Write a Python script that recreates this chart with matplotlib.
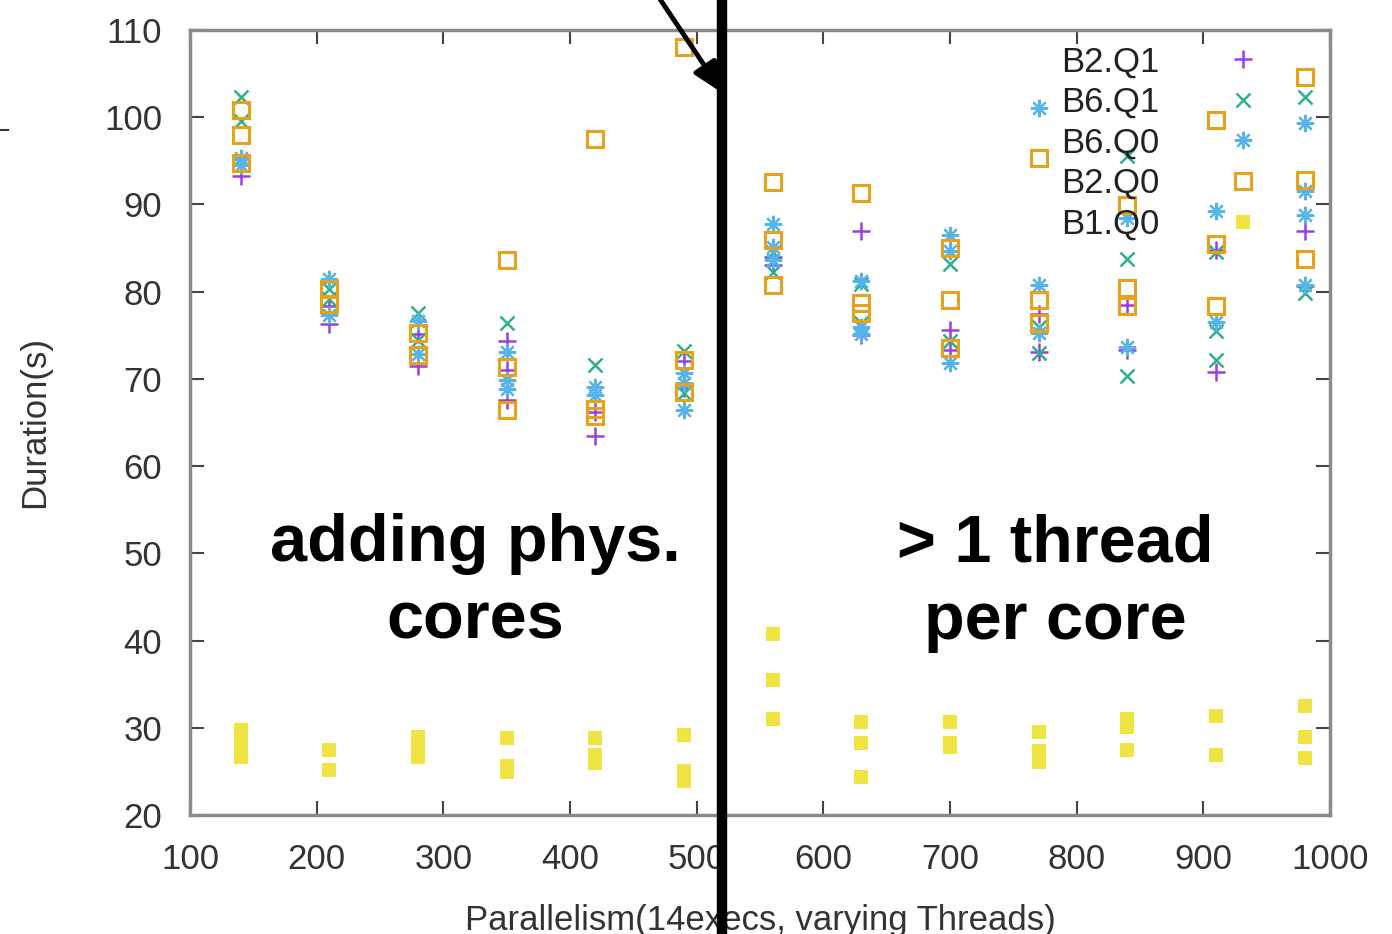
import matplotlib
matplotlib.use("Agg")
import matplotlib.pyplot as plt
from matplotlib.lines import Line2D
from matplotlib.transforms import blended_transform_factory

plt.rcParams["font.family"] = ["Liberation Sans", "DejaVu Sans"]

parallelism = [140, 210, 280, 350, 420, 490, 560, 630, 700, 770, 840, 910, 980]

# durations (s) per parallelism level, several runs each
b2_q1 = [[93.3], [76.3, 78.3], [75.2, 71.5], [74.3, 71.0, 67.6], [66.2, 63.4],
         [72.1, 69.0], [84.0, 83.0], [86.9, 75.0], [75.6, 73.3], [77.4, 73.1],
         [78.5, 73.3], [84.8, 70.8], [87.0, 80.6]]
b6_q1 = [[102.3, 99.6], [79.2, 80.3], [77.5, 74.5], [76.4], [71.6],
         [73.2, 68.4], [82.2, 84.5], [80.9, 76.4], [83.2, 74.3], [76.0, 73.0],
         [95.5, 83.8, 70.3], [84.6, 75.5, 72.2], [102.3, 79.8]]
b6_q0 = [[95.3, 94.5], [81.5, 77.3], [76.6, 72.8], [73.1, 69.9, 68.8], [69.1, 68.2],
         [70.7, 69.5, 66.4], [87.8, 85.1, 83.6], [81.2, 76.0, 75.2], [86.5, 84.7, 71.8],
         [101.0, 80.8, 75.3], [88.4, 73.6], [89.2, 76.5], [99.3, 91.5, 88.8, 80.8]]
b2_q0 = [[100.8, 98.0, 94.7], [80.3, 78.6], [75.3, 72.7], [83.6, 71.4, 66.4],
         [97.5, 66.6, 65.8], [108.0, 72.2, 68.5], [92.6, 85.9, 80.8], [91.3, 78.7, 77.5],
         [85.0, 79.0, 73.5], [95.3, 79.0, 76.4], [89.9, 80.4, 78.3], [99.7, 85.5, 78.3],
         [104.6, 92.8, 83.8]]
b1_q0 = [[29.8, 28.2, 26.6], [27.5, 25.2], [29.0, 27.3, 26.6], [28.8, 25.6, 24.9],
         [28.8, 26.9, 26.0], [29.2, 25.1, 23.9], [40.7, 35.5, 31.0], [30.7, 28.3, 24.3],
         [30.7, 28.3, 27.8], [29.5, 27.3, 26.1], [31.0, 30.1, 27.4], [31.4, 26.9],
         [32.5, 29.0, 26.5]]

series_names = ["B2.Q1", "B6.Q1", "B6.Q0", "B2.Q0", "B1.Q0"]


def flatten(levels):
    xs, ys = [], []
    for x, vals in zip(parallelism, levels):
        for v in vals:
            xs.append(x)
            ys.append(v)
    return xs, ys


styles = [
    dict(marker="+", color="#9a3fe0", ms=12.5, mew=1.8, mfc="none"),
    dict(marker="x", color="#2fb08c", ms=10.5, mew=1.8, mfc="none"),
    dict(marker=(8, 2, 0), color="#56b4e9", ms=12.5, mew=1.6, mfc="none"),
    dict(marker="s", color="#e8a21a", ms=11.5, mew=2.2, mfc="none"),
    dict(marker="s", color="#f0e442", ms=10, mew=0, mfc="#f0e442"),
]

fig = plt.figure(figsize=(13.92, 9.34), dpi=100)
ax = fig.add_axes([190 / 1392, 1 - 815 / 934, 1140 / 1392, 785 / 934])

for name, levels, st in zip(series_names, [b2_q1, b6_q1, b6_q0, b2_q0, b1_q0], styles):
    xs, ys = flatten(levels)
    ax.plot(xs, ys, linestyle="none", marker=st["marker"], color=st["color"],
            markersize=st["ms"], markeredgewidth=st["mew"], markerfacecolor=st["mfc"],
            label=name)

ax.set_xlim(100, 1000)
ax.set_ylim(20, 110)
ax.set_xticks(range(100, 1001, 100))
ax.set_yticks(range(20, 111, 10))
ax.tick_params(direction="in", length=10, width=1.5, color="#444444",
               top=True, right=True, labelsize=25, labelcolor="#333333")
ax.tick_params(axis="y", pad=20)
ax.tick_params(axis="x", pad=20)
for sp in ax.spines.values():
    sp.set_color("#8a8a8a")
    sp.set_linewidth(2.5)

ax.set_xlabel("Parallelism(14execs, varying Threads)", fontsize=25, color="#333333", labelpad=20)
ax.set_ylabel("Duration(s)", fontsize=25, color="#333333", labelpad=38)

leg = ax.legend(loc="upper right", bbox_to_anchor=(0.966, 1.016), frameon=False,
                markerfirst=False, numpoints=1, fontsize=25, labelspacing=0.22,
                handlelength=1.2, handletextpad=1.8, borderaxespad=0.4)
for t in leg.get_texts():
    t.set_color("#222222")

# annotations
ax.text(325, 46.6, "adding phys.\ncores", ha="center", va="center", fontsize=48,
        fontweight="bold", color="black", linespacing=1.32, zorder=6)
ax.text(783, 46.6, "> 1 thread\nper core", ha="center", va="center", fontsize=48,
        fontweight="bold", color="black", linespacing=1.32, zorder=6)

# thick divider line, running over the whole figure height
trans = blended_transform_factory(ax.transData, fig.transFigure)
ax.plot([520, 520], [0, 1], transform=trans, color="black", lw=7.5,
        clip_on=False, zorder=10, solid_capstyle="butt")
ax.annotate("", xy=(521, 102.7), xytext=(462, 115.5), xycoords="data",
            arrowprops=dict(arrowstyle="-|>,head_length=1.9,head_width=0.8",
                            color="black", lw=3.5, shrinkA=0, shrinkB=0),
            annotation_clip=False, zorder=10)

fig.add_artist(Line2D([0, 8 / 1392], [1 - 130 / 934] * 2, color="#333333", lw=1.5))

fig.savefig("out.png", dpi=100)
